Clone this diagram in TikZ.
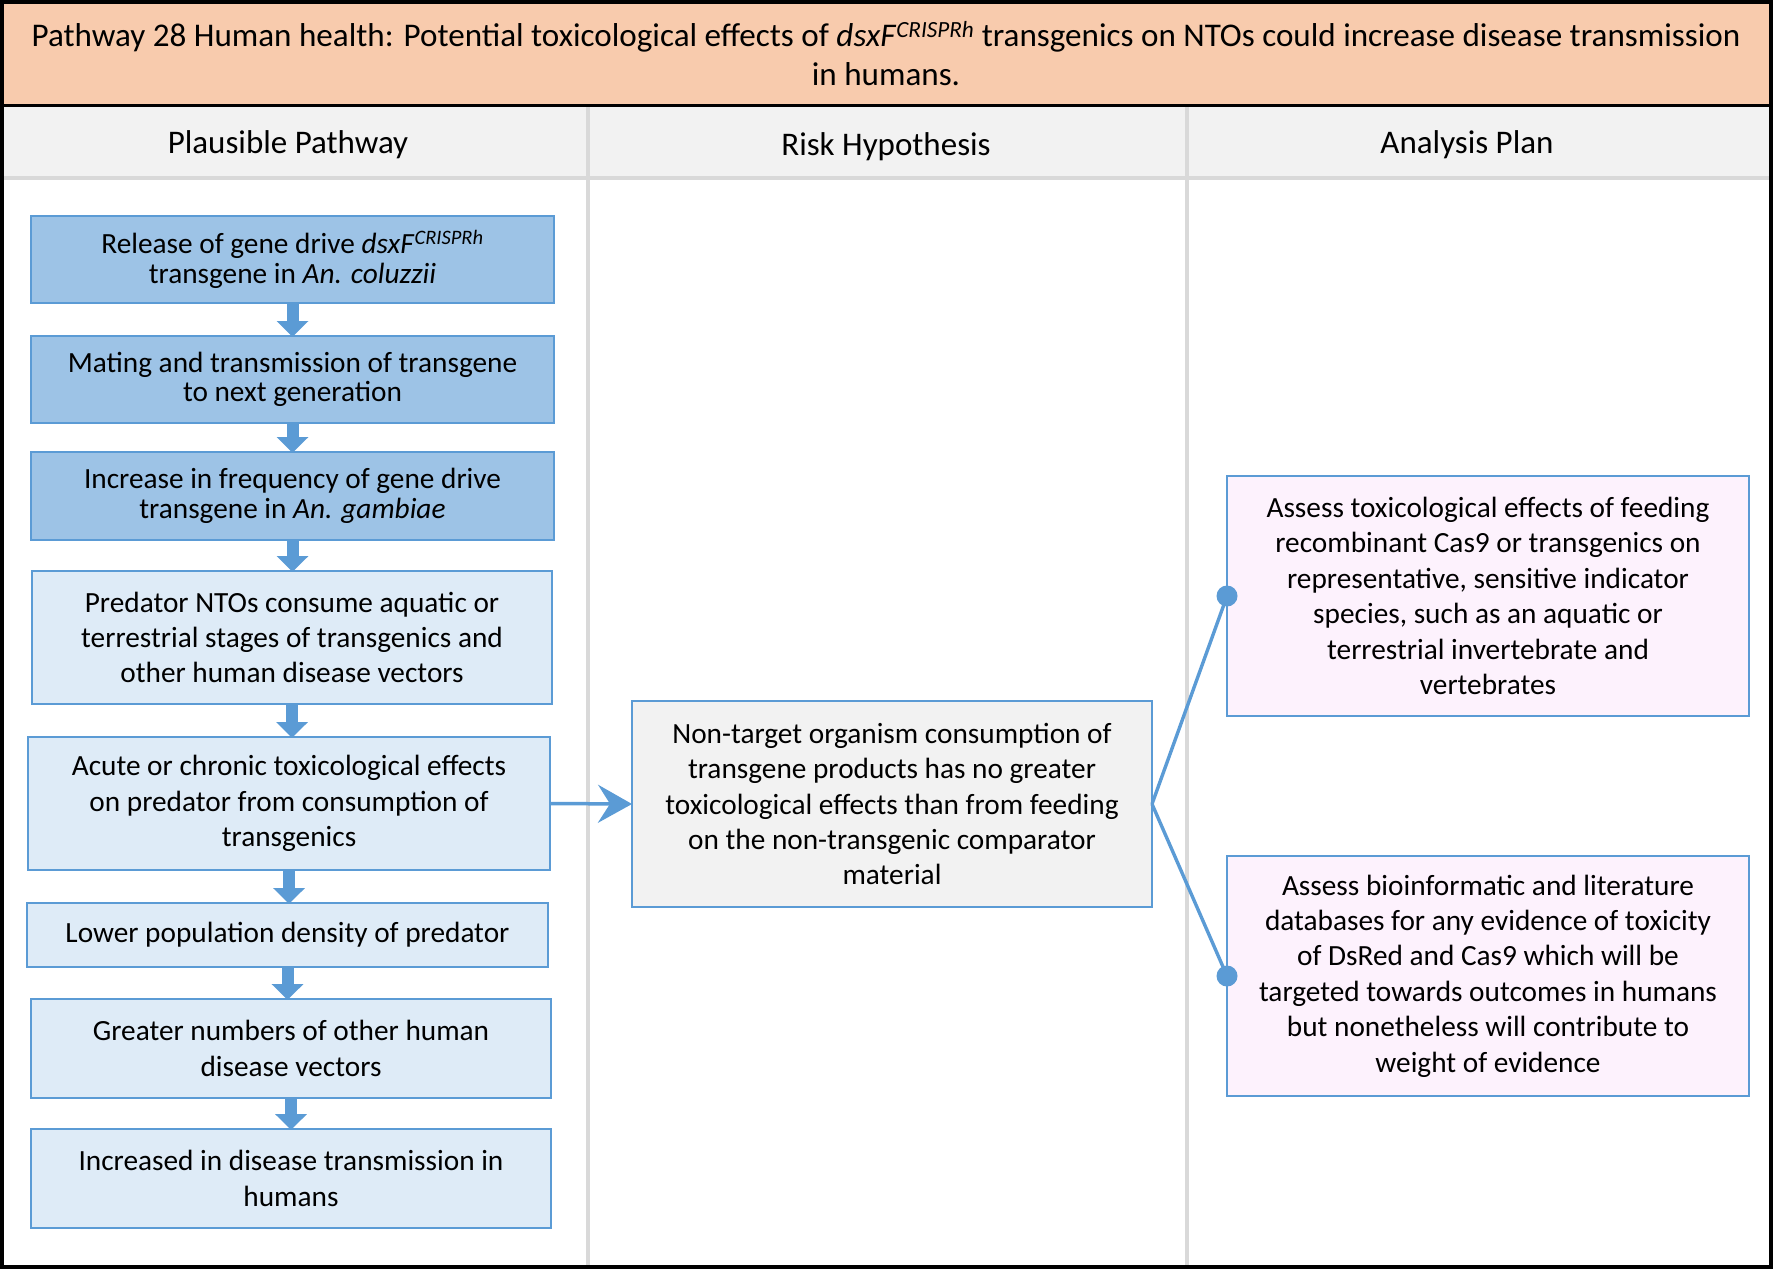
\documentclass[tikz,border=0pt]{standalone}
\usepackage{fontspec}
\setmainfont{Carlito}
\usetikzlibrary{arrows.meta}
\definecolor{peach}{HTML}{F8CBAD}
\definecolor{hdrgray}{HTML}{F2F2F2}
\definecolor{divgray}{HTML}{D9D9D9}
\definecolor{bord}{HTML}{5B9BD5}
\definecolor{darkfill}{HTML}{9DC3E6}
\definecolor{lightfill}{HTML}{DEEBF7}
\definecolor{pinkfill}{HTML}{FDF2FD}
\tikzset{
  every node/.style={inner sep=0pt, outer sep=0pt},
  bodyfont/.style={font=\fontsize{29.3}{35.4}\selectfont},
  tightfont/.style={font=\fontsize{29.3}{29.5}\selectfont},
  pbox/.style={draw=bord, line width=2.6pt, align=center, anchor=center},
  darkbox/.style={pbox, fill=darkfill, tightfont},
  lightbox/.style={pbox, fill=lightfill, bodyfont},
  hypbox/.style={pbox, fill=hdrgray, bodyfont},
  planbox/.style={pbox, fill=pinkfill, bodyfont},
  downarrow/.style={draw=bord, line width=12pt, -{Triangle[length=16pt,width=31pt]}, shorten >=-1pt},
  connline/.style={draw=bord, line width=3.4pt},
  dot/.style={circle, fill=bord, minimum size=21pt},
  hdr/.style={font=\fontsize{33}{40}\selectfont, anchor=center}
}
\begin{document}
\begin{tikzpicture}[x=1pt, y=-1pt]
\useasboundingbox (0,0) rectangle (1777,1270);
% title band and header
\fill[peach] (2,2) rectangle (1771,105);
\fill[hdrgray] (2,105) rectangle (1771,177);
\draw[divgray, line width=4pt] (2,178) -- (1771,178);
\draw[divgray, line width=4pt] (588,105) -- (588,1267);
\draw[divgray, line width=4pt] (1187,105) -- (1187,1267);
\draw[black, line width=3pt] (2,105) -- (1771,105);
\draw[black, line width=3.5pt] (2,2) rectangle (1771,1267);
\node[align=center, font=\fontsize{33.1}{39}\selectfont] (title) at (886,54)
  {Pathway 28 Human health: Potential toxicological effects of \textit{dsxF}\textsuperscript{\textit{CRISPRh}} transgenics on NTOs could increase disease transmission\\in humans.};
\node[hdr] (h1) at (288,145) {Plausible Pathway};
\node[hdr] (h2) at (886,147) {Risk Hypothesis};
\node[hdr] (h3) at (1467,145) {Analysis Plan};
% left column boxes
\node[darkbox, minimum width=523pt, minimum height=87pt] (b1) at (292.5,259.5)
  {Release of gene drive \textit{dsxF}\textsuperscript{\textit{CRISPRh}}\\transgene in \textit{An. coluzzii}};
\node[darkbox, minimum width=523pt, minimum height=87pt] (b2) at (292.5,379.5)
  {Mating and transmission of transgene\\to next generation};
\node[darkbox, minimum width=523pt, minimum height=88pt] (b3) at (292.5,496)
  {Increase in frequency of gene drive\\transgene in \textit{An. gambiae}};
\node[lightbox, minimum width=520pt, minimum height=133pt] (b4) at (292,637.5)
  {Predator NTOs consume aquatic or\\terrestrial stages of transgenics and\\other human disease vectors};
\node[lightbox, minimum width=522pt, minimum height=133pt] (b5) at (289,803.5)
  {Acute or chronic toxicological effects\\on predator from consumption of\\transgenics};
\node[lightbox, minimum width=521pt, minimum height=64pt] (b6) at (287.5,935)
  {Lower population density of predator};
\node[lightbox, minimum width=520pt, minimum height=99pt] (b7) at (291,1048.5)
  {Greater numbers of other human\\disease vectors};
\node[lightbox, minimum width=520pt, minimum height=99pt] (b8) at (291,1178.5)
  {Increased in disease transmission in\\humans};
% middle box
\node[hypbox, minimum width=520pt, minimum height=206pt] (hyp) at (892,804)
  {Non-target organism consumption of\\transgene products has no greater\\toxicological effects than from feeding\\on the non-transgenic comparator\\material};
% right boxes
\node[planbox, minimum width=522pt, minimum height=240pt] (p1) at (1488,596)
  {Assess toxicological effects of feeding\\recombinant Cas9 or transgenics on\\representative, sensitive indicator\\species, such as an aquatic or\\terrestrial invertebrate and\\vertebrates};
\node[planbox, minimum width=522pt, minimum height=240pt] (p2) at (1488,976)
  {Assess bioinformatic and literature\\databases for any evidence of toxicity\\of DsRed and Cas9 which will be\\targeted towards outcomes in humans\\but nonetheless will contribute to\\weight of evidence};
% down arrows
\foreach \a/\b in {b1/b2,b2/b3,b3/b4,b4/b5,b5/b6,b6/b7,b7/b8}{
  \draw[downarrow] (\a.south) ++(0,1.3) -- (\a.south |- \b.north);
}
% arrow to hypothesis
\draw[bord, line width=3.5pt, -{Stealth[length=34pt,width=38pt,inset=12pt]}] (b5.east) -- (hyp.west);
% connectors to plans
\node[dot] (d1) at (p1.west) {};
\node[dot] (d2) at (p2.west) {};
\draw[connline] (hyp.east) -- (d1.center);
\draw[connline] (hyp.east) -- (d2.center);
\end{tikzpicture}
\end{document}
